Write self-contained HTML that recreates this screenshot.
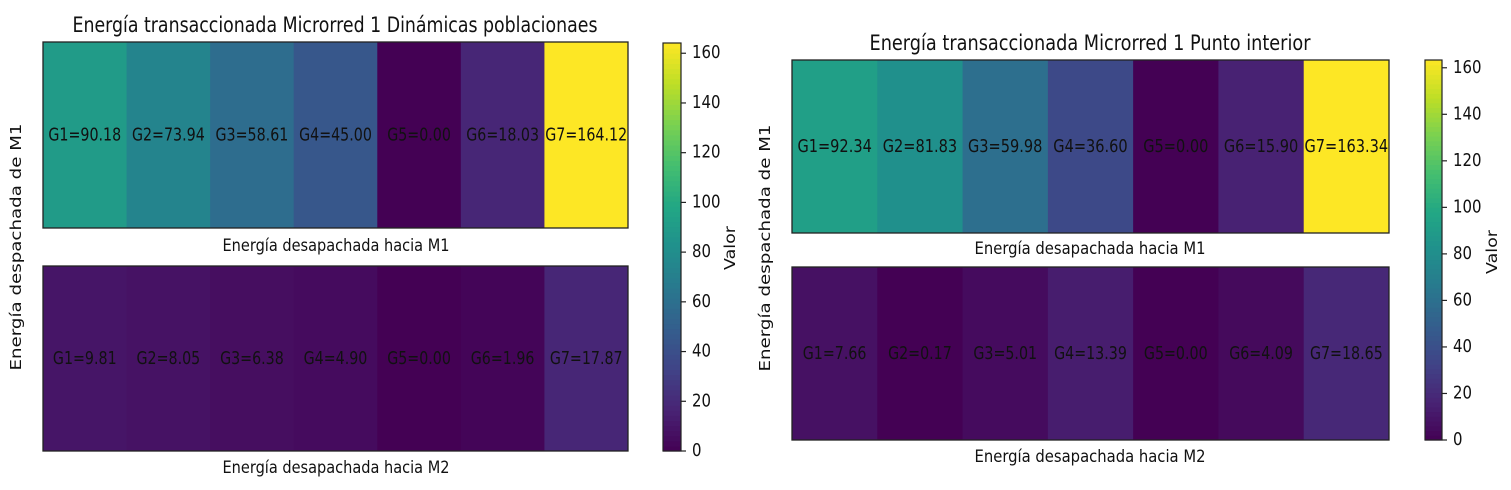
<!DOCTYPE html>
<html><head><meta charset="utf-8">
<style>
html,body{margin:0;padding:0;background:#fff;}
svg{display:block;font-family:"DejaVu Sans","Liberation Sans",sans-serif;}
</style></head>
<body>
<svg id="c" width="1511" height="490" viewBox="0 0 1511 490"></svg>
<script>
const labels = ["G1","G2","G3","G4","G5","G6","G7"];
const leftM1 = [90.18,73.94,58.61,45.00,0.00,18.03,164.12];
const leftM2 = [9.81,8.05,6.38,4.90,0.00,1.96,17.87];
const rightM1 = [92.34,81.83,59.98,36.60,0.00,15.90,163.34];
const rightM2 = [7.66,0.17,5.01,13.39,0.00,4.09,18.65];
const cbTicks = [0,20,40,60,80,100,120,140,160];

const NS="http://www.w3.org/2000/svg";
const svg=document.getElementById('c');
function mk(tag,attrs,parent){const e=document.createElementNS(NS,tag);for(const k in attrs)e.setAttribute(k,attrs[k]);(parent||svg).appendChild(e);return e;}
const V=[[0,[68,1,84]],[0.1,[72,35,116]],[0.2,[64,67,135]],[0.3,[52,94,141]],[0.4,[41,120,142]],[0.5,[32,144,140]],[0.6,[34,167,132]],[0.7,[68,190,112]],[0.8,[121,209,81]],[0.9,[189,222,38]],[1,[253,231,37]]];
function viridis(t){t=Math.max(0,Math.min(1,t));for(let i=1;i<V.length;i++){if(t<=V[i][0]){const a=V[i-1],b=V[i],f=(t-a[0])/(b[0]-a[0]);const c=a[1].map((v,j)=>Math.round(v+(b[1][j]-v)*f));return `rgb(${c.join(',')})`;}}return 'rgb(253,231,37)';}
function txt(s,x,y,size,tl,name,opts){opts=opts||{};const a={x:x,y:y,'font-size':size,'text-anchor':opts.anchor||'middle','dominant-baseline':'central',fill:'#111'};if(tl){a.textLength=tl;a.lengthAdjust='spacingAndGlyphs';}if(opts.rot)a.transform=`rotate(${opts.rot} ${x} ${y})`;const e=mk('text',a);e.textContent=s;return e;}

function heat(vals,x0,x1,y0,y1,vmax,name,cellW){
  const g=mk('g',{});
  
  
  const w=(x1-x0)/vals.length;
  vals.forEach((v,i)=>{
    const r=mk('rect',{x:x0+i*w,y:y0,width:w+0.5,height:y1-y0,fill:viridis(v/vmax)},g);
    
    
    const s=labels[i]+'='+v.toFixed(2);
    const t=txt(s,x0+(i+0.5)*w,(y0+y1)/2,18,s.length*cellW,'cell-label-'+labels[i].toLowerCase());
    g.appendChild(t);
  });
  const b=mk('rect',{x:x0,y:y0,width:x1-x0,height:y1-y0,fill:'none',stroke:'#222','stroke-width':1.3},g);
  
  
}
function colorbar(x0,x1,y0,y1,vmax,tx,name){
  const g=mk('g',{});
  
  
  const n=80,h=(y1-y0)/n;
  for(let i=0;i<n;i++){mk('rect',{x:x0,y:y1-(i+1)*h,width:x1-x0,height:h+0.6,fill:viridis((i+0.5)/n)},g);}
  mk('rect',{x:x0,y:y0,width:x1-x0,height:y1-y0,fill:'none',stroke:'#222','stroke-width':1.2},g);
  const sc=v=>y1-(v/vmax)*(y1-y0);
  cbTicks.forEach(v=>{const y=sc(v);mk('line',{x1:x1,x2:x1+5,y1:y,y2:y,stroke:'#222','stroke-width':1.2},g);
    const t=txt(String(v),tx,y,17.5,String(v).length*9.5,'colorbar-tick-'+v,{anchor:'start'});g.appendChild(t);});
}
// left panel
txt('Energía transaccionada Microrred 1 Dinámicas poblacionaes',335,25,21,525,'left-title');
heat(leftM1,43,628,42,228,164.12,'left-heatmap-m1',9.1);
txt('Energía desapachada hacia M1',336,246,17,227,'left-xlabel-m1');
heat(leftM2,43,628,266,451,164.12,'left-heatmap-m2',9.1);
txt('Energía desapachada hacia M2',336,468,17,227,'left-xlabel-m2');
txt('Energía despachada de M1',16,247,15,247,'left-ylabel',{rot:-90});
colorbar(663,681,43,451,164.12,692,'left-colorbar');
txt('Valor',730,248,15,44,'left-colorbar-label',{rot:-90});
// right panel
txt('Energía transaccionada Microrred 1 Punto interior',1090,43,21,441,'right-title');
heat(rightM1,792,1389,60,233,163.34,'right-heatmap-m1',9.3);
txt('Energía desapachada hacia M1',1090,249,17,231,'right-xlabel-m1');
heat(rightM2,792,1389,267,440,163.34,'right-heatmap-m2',9.1);
txt('Energía desapachada hacia M2',1090,457,17,231,'right-xlabel-m2');
txt('Energía despachada de M1',765,248,15,247,'right-ylabel',{rot:-90});
colorbar(1425,1442,60,440,163.34,1453,'right-colorbar');
txt('Valor',1492,252,15,44,'right-colorbar-label',{rot:-90});
</script>
</body></html>
